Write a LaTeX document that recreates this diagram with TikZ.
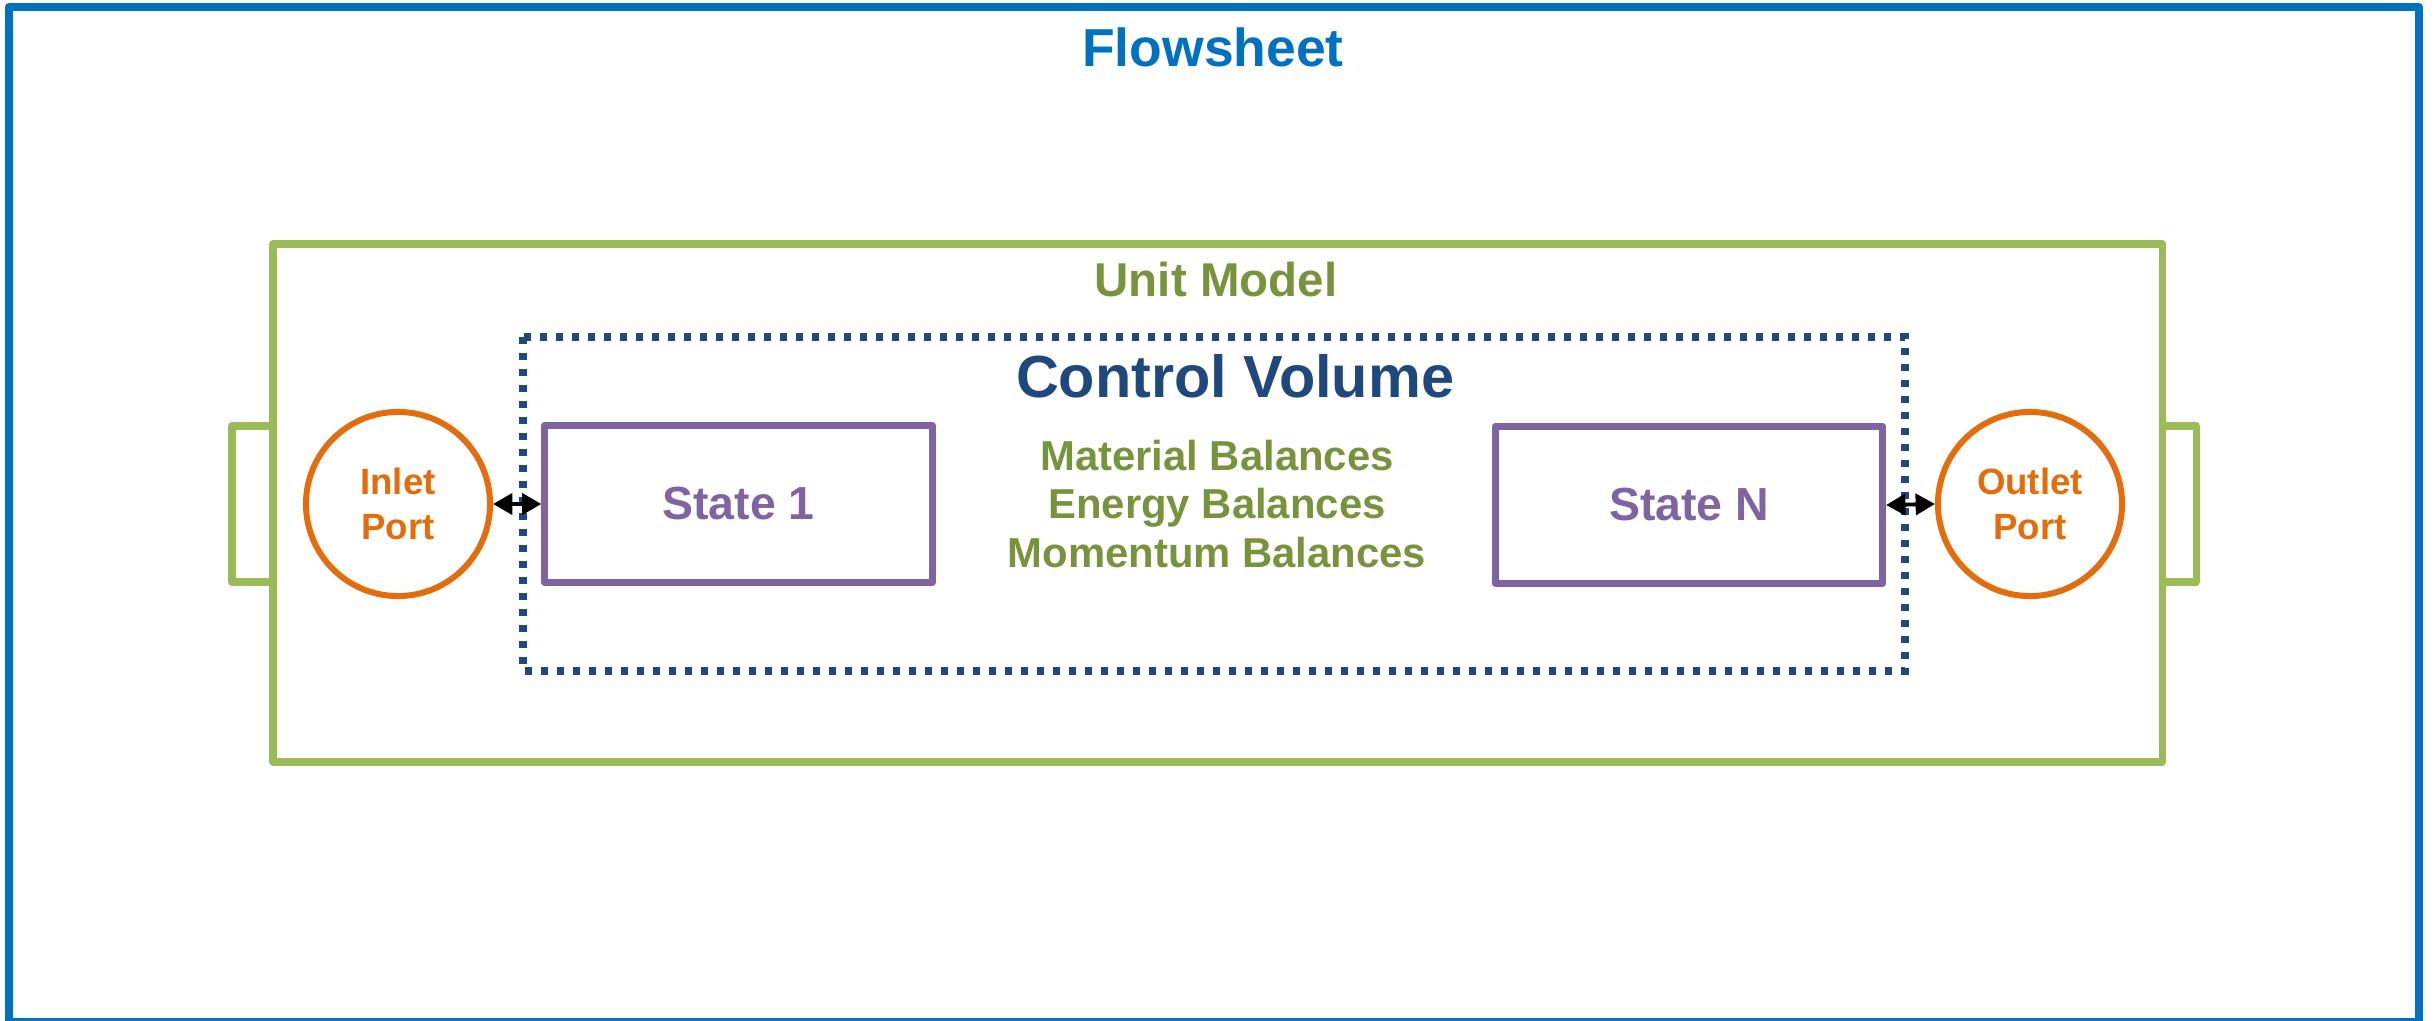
\documentclass[tikz,border=0pt]{standalone}
\usepackage{fontspec}
\setmainfont{Liberation Sans}
\usetikzlibrary{arrows.meta}
\definecolor{fsblue}{HTML}{0070C0}
\definecolor{umgreen}{HTML}{9BBB59}
\definecolor{umtext}{HTML}{77933C}
\definecolor{cvblue}{HTML}{1F497D}
\definecolor{stpurple}{HTML}{8064A2}
\definecolor{portorange}{HTML}{E46C0A}
\tikzset{
  frame/.style={line width=2.3pt, draw=fsblue, line join=round},
  unitbox/.style={line width=2pt, draw=umgreen, line join=round},
  cvbox/.style={line width=2pt, draw=cvblue, dash pattern=on 2pt off 2.55pt},
  statebox/.style={rectangle, draw=stpurple, line width=2pt, line join=round,
    minimum width=3.87cm, minimum height=1.57cm, inner sep=0pt,
    text=stpurple, font=\bfseries\fontsize{13.2}{15}\selectfont},
  portnode/.style={circle, draw=portorange, line width=1.7pt, minimum size=1.84cm,
    inner sep=0pt, align=center, text=portorange,
    font=\bfseries\fontsize{10.4}{12.8}\selectfont},
  link/.style={{Triangle[length=5.5pt,width=6pt]}-{Triangle[length=5.5pt,width=6pt]}, line width=1.1pt, black},
  title/.style={font=\bfseries\fontsize{#1}{#1}\selectfont, inner sep=0pt}
}
\begin{document}
\begin{tikzpicture}[x=0.01cm,y=-0.01cm]
\useasboundingbox (0,0) rectangle (2435,1021);
% outer flowsheet frame
\draw[frame] (9,7) rectangle (2419,1022);
\node[title=15.2, text=fsblue] (fs) at (1213,47) {Flowsheet};
% unit model with its two port tabs
\draw[unitbox] (273,244) rectangle (2162,762);
\draw[unitbox] (273,426) -- (232,426) -- (232,582) -- (273,582);
\draw[unitbox] (2162,426) -- (2196,426) -- (2196,582) -- (2162,582);
\node[title=13.5, text=umtext] (um) at (1216,280) {Unit Model};
% control volume
\draw[cvbox] (523,337) rectangle (1905,671);
\node[title=16.9, text=cvblue] (cv) at (1235,376) {Control Volume};
\node[font=\bfseries\fontsize{11.9}{13.8}\selectfont, text=umtext, align=center, inner sep=0pt]
  (bal) at (1217,504) {Material Balances\\Energy Balances\\Momentum Balances};
% state blocks
\node[statebox] (s1) at (738.5,504) {State 1};
\node[statebox] (sn) at (1689,505) {State N};
% ports
\node[portnode] (inlet) at (398,504) {Inlet\\Port};
\node[portnode] (outlet) at (2030,504) {Outlet\\Port};
% port connections
\draw[link] (inlet.east) -- (s1.west);
\draw[link] (sn.east) -- (outlet.west);
\end{tikzpicture}
\end{document}
